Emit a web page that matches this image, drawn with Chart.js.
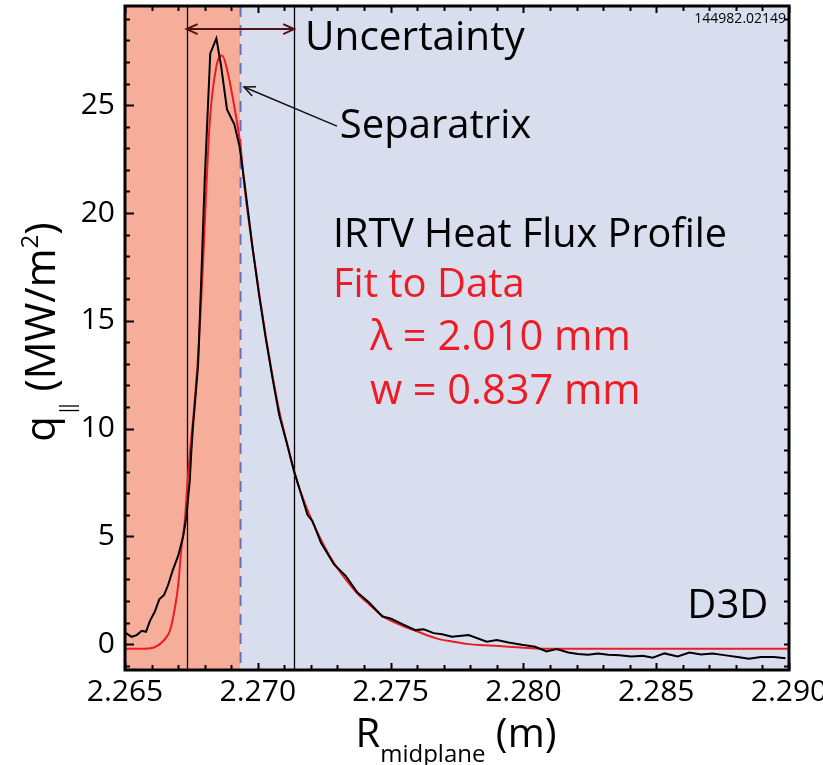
<!DOCTYPE html>
<html>
<head>
<meta charset="utf-8">
<script src="https://cdn.jsdelivr.net/npm/chart.js@4.4.1/dist/chart.umd.min.js"></script>
<style>
  html, body { margin: 0; padding: 0; background: #fff; }
  canvas { display: block; }
</style>
</head>
<body>
<canvas id="chart" width="823" height="765"></canvas>
<script>
// IRTV heat-flux profile mapped to the outboard midplane (shot 144982, t = 2149 ms)
const rMeasured = [
  2.26496, 2.26525, 2.26544, 2.26563, 2.26579, 2.26594, 2.26612, 2.26629, 2.26647, 2.26662,
  2.26681, 2.26700, 2.26719, 2.26731, 2.26744, 2.26750, 2.26756, 2.26775, 2.26787, 2.26800,
  2.26821, 2.26844, 2.26862, 2.26884, 2.26912, 2.26931, 2.26950, 2.26980, 2.27006, 2.27031,
  2.27056, 2.27081, 2.27112, 2.27137, 2.27162, 2.27187, 2.27206, 2.27238, 2.27287, 2.27331,
  2.27375, 2.27419, 2.27469, 2.27500, 2.27544, 2.27594, 2.27625, 2.27662, 2.27694, 2.27731,
  2.27794, 2.27862, 2.27900, 2.27944, 2.27994, 2.28044, 2.28087, 2.28125, 2.28169, 2.28206,
  2.28244, 2.28281, 2.28319, 2.28362, 2.28406, 2.28450, 2.28487, 2.28531, 2.28581, 2.28625,
  2.28669, 2.28712, 2.28756, 2.28806, 2.28849, 2.28894, 2.28944, 2.28987
];
const qMeasured = [
  0.57, 0.34, 0.42, 0.62, 0.57, 1.08, 1.50, 2.08, 2.28, 2.73,
  3.47, 4.09, 5.00, 5.90, 7.60, 9.00, 10.10, 12.90, 16.90, 21.50,
  27.40, 28.10, 26.80, 24.80, 24.10, 23.10, 21.40, 18.40, 16.10, 14.10,
  12.30, 10.60, 9.20, 8.00, 7.00, 6.00, 5.70, 4.70, 3.70, 3.16,
  2.39, 1.93, 1.28, 1.19, 0.93, 0.65, 0.69, 0.51, 0.46, 0.34,
  0.42, 0.11, 0.19, 0.08, -0.03, -0.12, -0.34, -0.23, -0.39, -0.46,
  -0.49, -0.43, -0.49, -0.52, -0.57, -0.54, -0.63, -0.43, -0.57, -0.39,
  -0.48, -0.43, -0.51, -0.60, -0.68, -0.60, -0.60, -0.65
];

// Eich-type fit to the measured profile
const rFit = [
  2.26500, 2.26550, 2.26590, 2.26606, 2.26631, 2.26650, 2.26669, 2.26687, 2.26700, 2.26712,
  2.26725, 2.26737, 2.26750, 2.26760, 2.26779, 2.26794, 2.26805, 2.26819, 2.26844, 2.26866,
  2.26887, 2.26912, 2.26934, 2.26950, 2.26980, 2.27006, 2.27031, 2.27056, 2.27081, 2.27112,
  2.27137, 2.27175, 2.27220, 2.27275, 2.27331, 2.27375, 2.27419, 2.27469, 2.27544, 2.27594,
  2.27669, 2.27731, 2.27794, 2.27856, 2.27944, 2.28044, 2.28200, 2.28500, 2.29000
];
const qFit = [
  -0.22, -0.22, -0.20, -0.17, 0.00, 0.23, 0.62, 1.62, 2.70, 4.40,
  5.70, 7.80, 9.60, 10.90, 14.10, 17.70, 20.80, 24.20, 26.80, 27.30,
  26.50, 24.90, 23.20, 21.20, 18.40, 16.20, 14.20, 12.40, 10.80, 9.20,
  8.00, 6.60, 5.30, 4.00, 3.00, 2.35, 1.85, 1.31, 0.85, 0.62,
  0.28, 0.12, 0.00, -0.05, -0.12, -0.20, -0.22, -0.22, -0.22
];

const xTickLabels = ['2.265', '2.270', '2.275', '2.280', '2.285', '2.290'];
const yTickLabels = ['0', '5', '10', '15', '20', '25'];
const rRange = [2.265, 2.290];
const qRange = [-1.2, 29.6];

const separatrixR = 2.26935;
const uncertaintyR = [2.26732, 2.27137];
const shotLabel = '144982.02149';
const fitLambda = '2.010';
const fitWidth = '0.837';

const FONT = "'Open Sans', 'Liberation Sans', sans-serif";
const RED = '#ED1C24';
const fnt = (size) => `${size}px ${FONT}`;

// Draw a row of text pieces with individual sizes, vertical shifts (sub/superscripts)
// and optional fixed advances
function drawRuns(ctx, runs, x, y, align) {
  let total = 0;
  runs.forEach(r => {
    ctx.font = fnt(r.size);
    r.w = r.adv !== undefined ? r.adv : ctx.measureText(r.text).width;
    total += r.w;
  });
  let cx = align === 'center' ? x - total / 2 : (align === 'right' ? x - total : x);
  ctx.textAlign = 'left';
  ctx.textBaseline = 'alphabetic';
  runs.forEach(r => {
    ctx.font = fnt(r.size);
    ctx.fillText(r.text, cx, y + (r.dy || 0));
    cx += r.w;
  });
}

function arrowHead(ctx, tipX, tipY, fromX, fromY, len, half) {
  const a = Math.atan2(tipY - fromY, tipX - fromX);
  const c = Math.cos(a), s = Math.sin(a);
  ctx.beginPath();
  ctx.moveTo(tipX - len * c + half * s, tipY - len * s - half * c);
  ctx.lineTo(tipX, tipY);
  ctx.lineTo(tipX - len * c - half * s, tipY - len * s + half * c);
  ctx.stroke();
}

const profileDecor = {
  id: 'profileDecor',
  beforeDatasetsDraw(chart) {
    const { ctx, chartArea: a, scales: { x } } = chart;
    const xs = x.getPixelForValue(separatrixR);
    ctx.save();
    // private-flux side and SOL side shading
    ctx.fillStyle = '#F6AE9A';
    ctx.fillRect(a.left, a.top, xs - a.left, a.bottom - a.top);
    ctx.fillStyle = '#D9DEEE';
    ctx.fillRect(xs, a.top, a.right - xs, a.bottom - a.top);
    // separatrix position
    ctx.strokeStyle = '#6670B4';
    ctx.lineWidth = 2;
    ctx.setLineDash([11, 8]);
    ctx.beginPath();
    ctx.moveTo(xs, a.top);
    ctx.lineTo(xs, a.bottom);
    ctx.stroke();
    ctx.setLineDash([]);
    // uncertainty bounds
    ctx.strokeStyle = '#000';
    ctx.lineWidth = 1.3;
    uncertaintyR.forEach(r => {
      const px = Math.round(x.getPixelForValue(r)) + 0.5;
      ctx.beginPath();
      ctx.moveTo(px, a.top);
      ctx.lineTo(px, a.bottom);
      ctx.stroke();
    });
    ctx.restore();
  },
  afterDatasetsDraw(chart) {
    const { ctx, chartArea: a, scales: { x, y } } = chart;
    ctx.save();

    // frame and inward ticks on all four sides
    ctx.strokeStyle = '#000';
    ctx.lineWidth = 2;
    ctx.beginPath();
    for (let i = 0; i <= 25; i++) {
      const px = Math.round(x.getPixelForValue(rRange[0] + i * 0.001)) + 0.5;
      const len = i % 5 === 0 ? 7 : 5;
      ctx.moveTo(px, a.bottom); ctx.lineTo(px, a.bottom - len);
      ctx.moveTo(px, a.top); ctx.lineTo(px, a.top + len);
    }
    for (let v = -1; v <= 29; v++) {
      const py = Math.round(y.getPixelForValue(v)) + 0.5;
      const len = v % 5 === 0 ? 9 : 5;
      ctx.moveTo(a.left, py); ctx.lineTo(a.left + len, py);
      ctx.moveTo(a.right, py); ctx.lineTo(a.right - 5, py);
    }
    ctx.stroke();
    ctx.lineWidth = 3;
    ctx.strokeRect(a.left, a.top, a.right - a.left, a.bottom - a.top);

    // uncertainty span arrow
    const xa = x.getPixelForValue(uncertaintyR[0]);
    const xb = x.getPixelForValue(uncertaintyR[1]);
    const ya = y.getPixelForValue(28.53);
    ctx.strokeStyle = '#4E1414';
    ctx.lineWidth = 2;
    ctx.beginPath();
    ctx.moveTo(xa, ya); ctx.lineTo(xb, ya);
    ctx.stroke();
    arrowHead(ctx, xa, ya, xb, ya, 11, 5);
    arrowHead(ctx, xb, ya, xa, ya, 11, 5);

    // pointer to the separatrix
    const tx = x.getPixelForValue(2.27298), ty = y.getPixelForValue(24.03);
    const hx = x.getPixelForValue(2.26948), hy = y.getPixelForValue(25.84);
    ctx.strokeStyle = '#111';
    ctx.lineWidth = 1.5;
    ctx.beginPath();
    ctx.moveTo(tx, ty); ctx.lineTo(hx, hy);
    ctx.stroke();
    arrowHead(ctx, hx, hy, tx, ty, 11, 5);

    // annotations
    const at = (rx, qy) => [x.getPixelForValue(rx), y.getPixelForValue(qy)];
    ctx.fillStyle = '#000';
    let p = at(2.27178, 27.56);
    drawRuns(ctx, [{ text: 'Uncertainty', size: 40.5 }], p[0], p[1], 'left');
    p = at(2.27309, 23.48);
    drawRuns(ctx, [{ text: 'Separatrix', size: 40 }], p[0], p[1], 'left');
    p = at(2.27283, 18.43);
    drawRuns(ctx, [{ text: 'IRTV Heat Flux Profile', size: 39.6 }], p[0], p[1], 'left');
    ctx.fillStyle = RED;
    p = at(2.27283, 16.12);
    drawRuns(ctx, [{ text: 'Fit to Data', size: 40 }], p[0], p[1], 'left');
    p = at(2.27422, 13.64);
    drawRuns(ctx, [{ text: '\u03BB = ' + fitLambda + ' mm', size: 41.5 }], p[0], p[1], 'left');
    p = at(2.27422, 11.14);
    drawRuns(ctx, [{ text: 'w = ' + fitWidth + ' mm', size: 41.5 }], p[0], p[1], 'left');
    ctx.fillStyle = '#000';
    p = at(2.28922, 1.20);
    drawRuns(ctx, [{ text: 'D3D', size: 40 }], p[0], p[1], 'right');
    p = at(2.28989, 28.81);
    drawRuns(ctx, [{ text: shotLabel, size: 14 }], p[0], p[1], 'right');

    // axis titles
    drawRuns(ctx, [
      { text: 'R', size: 40 },
      { text: 'midplane', size: 24, dy: 15 },
      { text: ' (m)', size: 40 }
    ], (a.left + a.right) / 2 - 1, 747, 'center');

    ctx.save();
    ctx.translate(55, 332);
    ctx.rotate(-Math.PI / 2);
    drawRuns(ctx, [
      { text: 'q', size: 42 },
      { text: '|', size: 20, dy: 19, adv: 4.5 },
      { text: '|', size: 20, dy: 19, adv: 9 },
      { text: ' (MW/m', size: 42 },
      { text: '2', size: 24, dy: -17 },
      { text: ')', size: 42 }
    ], 0, 0, 'center');
    ctx.restore();

    ctx.restore();
  }
};

new Chart(document.getElementById('chart'), {
  type: 'scatter',
  data: {
    datasets: [
      {
        label: 'IRTV Heat Flux Profile',
        data: rMeasured.map((r, i) => ({ x: r, y: qMeasured[i] })),
        showLine: true,
        borderColor: '#000',
        borderWidth: 2,
        pointRadius: 0,
        tension: 0
      },
      {
        label: 'Fit to Data',
        data: rFit.map((r, i) => ({ x: r, y: qFit[i] })),
        showLine: true,
        borderColor: RED,
        borderWidth: 2,
        pointRadius: 0,
        cubicInterpolationMode: 'monotone'
      }
    ]
  },
  options: {
    responsive: false,
    animation: false,
    events: [],
    layout: { padding: { top: 6, right: 34, left: 0, bottom: 0 } },
    plugins: { legend: { display: false }, tooltip: { enabled: false } },
    scales: {
      x: {
        type: 'linear',
        min: rRange[0],
        max: rRange[1],
        grid: { display: false, drawTicks: false },
        border: { display: false },
        afterBuildTicks: s => { s.ticks = xTickLabels.map(t => ({ value: Number(t) })); },
        afterFit: s => { s.height = 95; s.paddingLeft = 0; s.paddingRight = 0; },
        ticks: {
          autoSkip: false,
          maxRotation: 0,
          padding: 4,
          color: '#000',
          font: { family: FONT, size: 30 },
          callback: (v, i) => xTickLabels[i]
        }
      },
      y: {
        type: 'linear',
        min: qRange[0],
        max: qRange[1],
        grid: { display: false, drawTicks: false },
        border: { display: false },
        afterBuildTicks: s => { s.ticks = yTickLabels.map(t => ({ value: Number(t) })); },
        afterFit: s => { s.width = 125; s.paddingTop = 0; s.paddingBottom = 0; },
        ticks: {
          autoSkip: false,
          padding: 10,
          color: '#000',
          font: { family: FONT, size: 30 },
          callback: (v, i) => yTickLabels[i]
        }
      }
    }
  },
  plugins: [profileDecor]
});
</script>
</body>
</html>
